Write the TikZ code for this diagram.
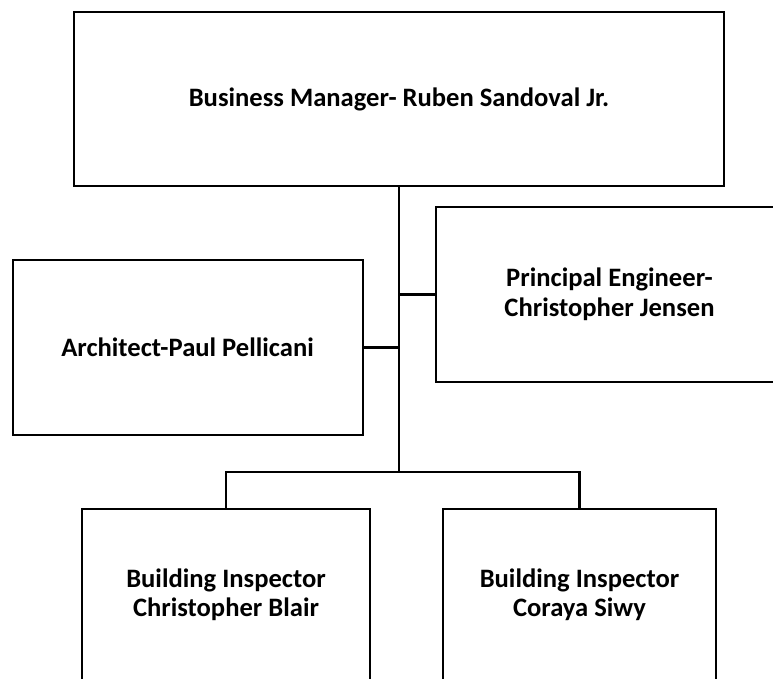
\documentclass[tikz,border=0pt]{standalone}
\usepackage{fontspec}
\setmainfont{Carlito}
\begin{document}
\begin{tikzpicture}[x=1pt,y=-1pt,
  orgbox/.style={draw=black,line width=2.2pt,fill=white,rectangle,inner sep=0pt,
    align=center,font=\bfseries\fontsize{26.6}{29.5}\selectfont},
  link/.style={draw=black,line width=2.2pt}]
\useasboundingbox (0,0) rectangle (773,679);
\node[orgbox,minimum width=650pt,minimum height=174pt] (top) at (399,99) {Business Manager- Ruben Sandoval Jr.};
\node[orgbox,minimum width=350pt,minimum height=175pt] (arch) at (187.6,347.5) {Architect-Paul Pellicani};
\node[orgbox,minimum width=347pt,minimum height=175pt] (prin) at (609.5,294.5) {Principal Engineer-\\Christopher Jensen};
\node[orgbox,minimum width=288pt,minimum height=172pt] (bia) at (226,595) {Building Inspector\\Christopher Blair};
\node[orgbox,minimum width=273pt,minimum height=172pt] (bib) at (579.5,595) {Building Inspector\\Coraya Siwy};
\coordinate (j) at (399,471.7);
\draw[link] (top.south) -- (j);
\draw[link] (prin.west) -- (prin.west -| top.south);
\draw[link] (arch.east) -- (arch.east -| top.south);
\draw[link] (bia.north) |- (j) -| (bib.north);
\end{tikzpicture}
\end{document}
